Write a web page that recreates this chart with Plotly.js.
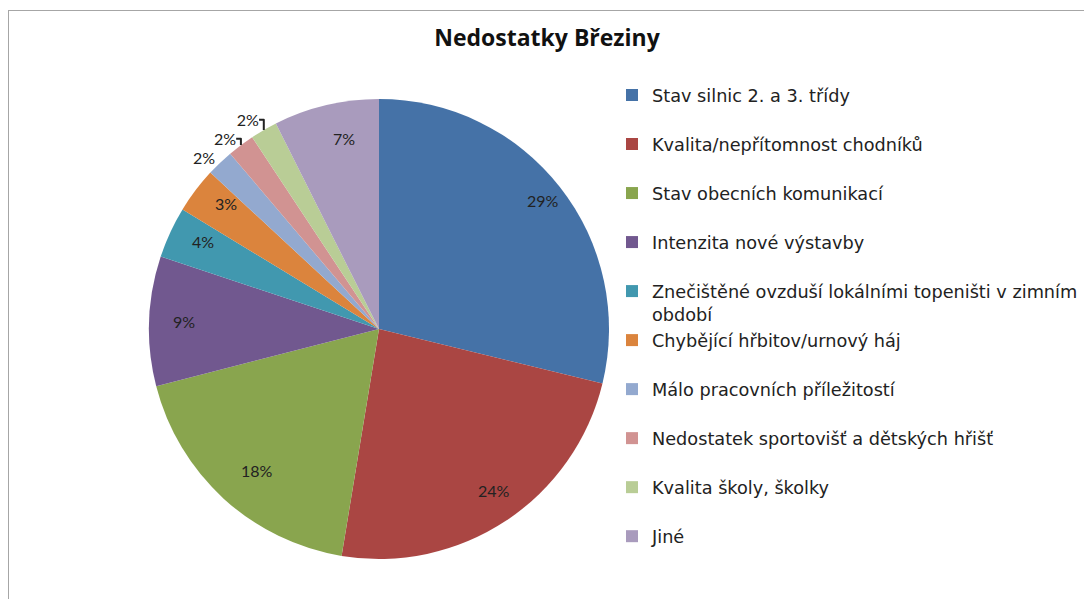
<!DOCTYPE html>
<html>
<head>
<meta charset="utf-8">
<script src="https://cdn.plot.ly/plotly-3.0.1.min.js"></script>
<style>
  body { margin: 0; background: #fff; }
  #chart { position: absolute; left: 0; top: 0; width: 1084px; height: 599px; }
  #frame { position: absolute; left: 8px; top: 10px; width: 1100px; height: 620px;
           border-left: 1.5px solid #a6a6a6; border-top: 1.5px solid #a6a6a6; pointer-events: none; }
</style>
</head>
<body>
<div id="chart"></div>
<div id="frame"></div>
<script>
// data
var categories = [
  "Stav silnic 2. a 3. třídy",
  "Kvalita/nepřítomnost chodníků",
  "Stav obecních komunikací",
  "Intenzita nové výstavby",
  "Znečištěné ovzduší lokálními topeništi v zimním období",
  "Chybějící hřbitov/urnový háj",
  "Málo pracovních příležitostí",
  "Nedostatek sportovišť a dětských hřišť",
  "Kvalita školy, školky",
  "Jiné"
];
var shares = [28.8, 23.8, 18.4, 9.1, 3.6, 3.2, 1.9, 1.9, 1.9, 7.4];

var colors = ["#4572A7", "#AA4643", "#89A54E", "#71588F", "#4198AF",
              "#DB843D", "#93A9CF", "#D19392", "#B9CD96", "#A99BBD"];

// pie placement (px)
var W = 1084, H = 599;
var cx = 379, cy = 329, R = 230;

// wrap long legend names, every entry gets two lines so spacing is even
function wrap(s, max) {
  var words = s.split(" "), lines = [""];
  words.forEach(function (w) {
    var cur = lines[lines.length - 1];
    if (cur && (cur + " " + w).length > max) lines.push(w);
    else lines[lines.length - 1] = cur ? cur + " " + w : w;
  });
  if (lines.length < 2) lines.push(" ");
  return lines.join("<br>");
}
var legendLabels = categories.map(function (c) { return wrap(c, 47); });

// small slices get their label outside (by plotly), the rest near the rim like excel
var textPos = shares.map(function (v) { return v < 2.5 ? "outside" : "none"; });

var total = shares.reduce(function (a, b) { return a + b; }, 0);
var annotations = [];
var cum = 0;
shares.forEach(function (v, i) {
  var mid = (cum + v / 2) / total * 2 * Math.PI;
  cum += v;
  if (textPos[i] !== "none") return;
  var r = R - 22;
  annotations.push({
    xref: "paper", yref: "paper",
    x: (cx + r * Math.sin(mid)) / W,
    y: (H - cy + r * Math.cos(mid)) / H,
    text: Math.round(v / total * 100) + "%",
    showarrow: false,
    font: { family: "Lato, sans-serif", size: 16, color: "#222" }
  });
});

var data = [{
  type: "pie",
  labels: legendLabels,
  values: shares,
  sort: false,
  direction: "clockwise",
  rotation: 0,
  marker: { colors: colors, line: { width: 0 } },
  texttemplate: "%{percent:.0%}",
  textposition: textPos,
  textfont: { family: "Lato, sans-serif", size: 16, color: "#222" },
  domain: { x: [(cx - R) / W, (cx + R) / W], y: [(H - cy - R) / H, (H - cy + R) / H] },
  hoverinfo: "label+percent"
}];

var layout = {
  width: W,
  height: H,
  margin: { l: 0, r: 0, t: 0, b: 0 },
  paper_bgcolor: "#fff",
  showlegend: true,
  annotations: annotations,
  title: {
    text: "<b>Nedostatky Březiny</b>",
    x: 547 / W, xanchor: "center",
    y: 1 - 38 / H, yanchor: "middle",
    font: { family: "Open Sans, sans-serif", size: 23, color: "#111" }
  },
  legend: {
    x: 612 / W, xanchor: "left",
    y: 1 - 77 / H, yanchor: "top",
    valign: "top",
    font: { family: "DejaVu Sans, sans-serif", size: 17.7, color: "#222" },
    bgcolor: "rgba(0,0,0,0)"
  }
};

Plotly.newPlot("chart", data, layout, { displayModeBar: false });
</script>
</body>
</html>
